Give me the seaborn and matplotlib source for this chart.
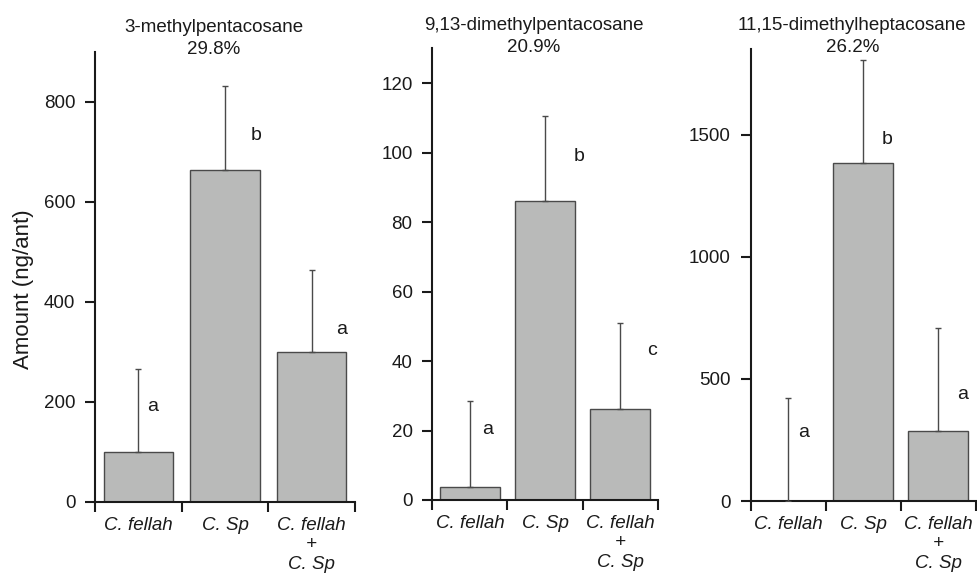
import numpy as np
import pandas as pd
import matplotlib
matplotlib.use("Agg")
import matplotlib.pyplot as plt
import seaborn as sns

# ---------------- data ----------------
groups = ["C. fellah", "C. Sp", "C. fellah\n+\nC. Sp"]

titles = ["3-methylpentacosane", "9,13-dimethylpentacosane", "11,15-dimethylheptacosane"]
percents = ["29.8%", "20.9%", "26.2%"]

means_3me25 = [100, 665, 300]
sd_3me25 = [166, 167, 165]
letters_3me25 = ["a", "b", "a"]

means_913 = [3.6, 86.1, 26.3]
sd_913 = [24.8, 24.5, 24.5]
letters_913 = ["a", "b", "c"]

means_1115 = [0, 1382, 288]
sd_1115 = [422, 422, 422]
letters_1115 = ["a", "b", "a"]

yticks_list = [[0, 200, 400, 600, 800], [0, 20, 40, 60, 80, 100, 120], [0, 500, 1000, 1500]]
ylims = [900, 130, 1850]

# letter label placement (data units: y centre, x offset from bar centre)
letter_y = [[191, 734, 346], [20.3, 98.9, 42.9], [279, 1480, 434]]
letter_dx = [[0.16, 0.36, 0.34], [0.24, 0.45, 0.42], [0.20, 0.31, 0.32]]

# ---------------- style ----------------
sns.set_style("ticks")
plt.rcParams["font.family"] = ["Liberation Sans", "DejaVu Sans"]
FS = 13.5
BAR = "#b9bab9"
EDGE = "#4a4a4a"
DARK = "#1a1a1a"

W, H = 977, 576
fig = plt.figure(figsize=(W / 100, H / 100), dpi=100)


def px_rect(left, top, right, bottom):
    return [left / W, 1 - bottom / H, (right - left) / W, (bottom - top) / H]


rects = [px_rect(95, 52, 355, 502), px_rect(432.3, 48.3, 657.7, 500), px_rect(750.7, 49, 976, 501)]
title_base = [54, 52, 52]

panels = [
    (means_3me25, sd_3me25, letters_3me25),
    (means_913, sd_913, letters_913),
    (means_1115, sd_1115, letters_1115),
]

for i, (means, sds, letters) in enumerate(panels):
    ax = fig.add_axes(rects[i])
    df = pd.DataFrame({"group": groups, "amount": means})
    sns.barplot(data=df, x="group", y="amount", ax=ax, color=BAR, saturation=1,
                width=0.8, edgecolor=EDGE, linewidth=1.0, errorbar=None)
    for p in ax.patches:
        p.set_facecolor(BAR)
    xpos = np.arange(len(groups))
    ax.errorbar(xpos, means, yerr=[np.zeros(len(sds)), sds], fmt="none",
                ecolor=EDGE, elinewidth=1.0, capsize=2.5, capthick=1.0, zorder=3)
    for j, let in enumerate(letters):
        ax.text(xpos[j] + letter_dx[i][j], letter_y[i][j], let, ha="center", va="center",
                fontsize=14, color=DARK)

    ax.set_xlim(-0.5, 2.5)
    ax.set_ylim(0, ylims[i])
    ax.set_yticks(yticks_list[i])
    ax.set_yticklabels([str(t) for t in yticks_list[i]], fontsize=FS, color=DARK)
    ax.tick_params(axis="y", length=7.2, width=1.5, pad=7, color=DARK)

    # category boundary ticks (major) and labels at centres (minor)
    ax.set_xticks([-0.5, 0.5, 1.5, 2.5])
    ax.set_xticklabels([])
    ax.set_xticks(xpos, minor=True)
    ax.set_xticklabels(groups, minor=True, fontsize=FS, style="italic", color=DARK)
    ax.tick_params(axis="x", which="major", length=7.2, width=1.5, color=DARK, direction="out")
    ax.tick_params(axis="x", which="minor", length=0, pad=10.5)
    ax.set_xlabel("")
    ax.set_ylabel("")

    sns.despine(ax=ax)
    for s in ["left", "bottom"]:
        ax.spines[s].set_linewidth(1.5)
        ax.spines[s].set_color(DARK)
    ax.set_facecolor("none")

    # two-line title
    bb = rects[i]
    cx = bb[0] + bb[2] / 2 - 11 / W
    base = title_base[i]
    fig.text(cx, 1 - (base - 21.5) / H, titles[i], ha="center", va="baseline",
             fontsize=FS, color=DARK)
    fig.text(cx, 1 - base / H, percents[i], ha="center", va="baseline",
             fontsize=FS, color=DARK)

fig.text(24 / W, 1 - 289 / H, "Amount (ng/ant)", rotation=90, ha="center", va="center",
         fontsize=16, color=DARK)

fig.savefig("out.png", dpi=100, facecolor="white")
